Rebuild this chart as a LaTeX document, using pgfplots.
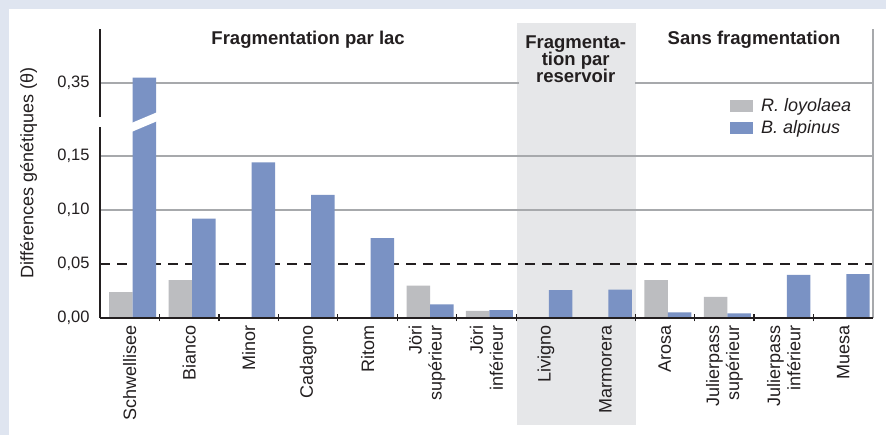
\documentclass[border=0pt]{standalone}
\usepackage{pgfplots}
\pgfplotsset{compat=1.18}
\usepackage{fontspec}
\setmainfont{Liberation Sans}
\definecolor{bgblue}{HTML}{DFE5F0}
\definecolor{band}{HTML}{E6E7E9}
\definecolor{ablue}{HTML}{7A92C4}
\definecolor{agrey}{HTML}{BCBDC0}
\definecolor{gridc}{HTML}{A7A9AC}
\definecolor{txt}{HTML}{231F20}
\begin{document}
\begin{tikzpicture}
\fill[bgblue] (0pt,0pt) rectangle (886pt,435pt);
\fill[white] (9pt,0pt) rectangle (886pt,426pt);
\fill[band] (517pt,10pt) rectangle (636pt,412pt);
\begin{axis}[
  at={(100pt,117pt)}, anchor=south west,
  scale only axis, width=773pt, height=289pt,
  xmin=-0.5, xmax=12.5, ymin=0, ymax=0.2675,
  axis line style={draw=none},
  tick pos=left,
  xtick={0,...,12},
  xticklabels={Schwellisee, Bianco, Minor, Cadagno, Ritom, {Jöri\\supérieur}, {Jöri\\inférieur}, Livigno, Marmorera, Arosa, {Julierpass\\supérieur}, {Julierpass\\inférieur}, Muesa},
  ytick={0,0.05,0.1,0.15,0.2175},
  yticklabels={{0,00},{0,05},{0,10},{0,15},{0,35}},
  major tick length=0pt,
  extra x ticks={0.5,1.5,2.5,3.5,4.5,5.5,6.5,8.5,9.5,10.5,11.5},
  extra x tick labels={},
  extra x tick style={major tick length=7pt, tick align=center, tick style={txt, line width=1.2pt}},
  xticklabel style={rotate=90, anchor=east, align=right, font=\fontsize{18}{20}\selectfont, text=txt},
  xticklabel shift=4pt,
  yticklabel style={font=\fontsize{16.5}{18}\selectfont, text=txt},
  yticklabel shift=7pt,
  clip=false,
  legend style={at={(axis description cs:0.815,0.761)}, anchor=north west, draw=none, fill=none, inner sep=0pt, row sep=8pt, font=\fontsize{18}{20}\selectfont\itshape, text=txt, cells={anchor=west}, nodes={inner sep=0pt}},
]
% grid lines
\draw[gridc, line width=1.2pt] (axis cs:-0.5,0.2175) -- (axis cs:6.55,0.2175);
\draw[gridc, line width=1.2pt] (axis cs:8.5,0.2175) -- (axis cs:12.5,0.2175);
\draw[gridc, line width=1.2pt] (axis cs:-0.5,0.15) -- (axis cs:12.5,0.15);
\draw[gridc, line width=1.2pt] (axis cs:-0.5,0.10) -- (axis cs:12.5,0.10);
\draw[txt, line width=1.5pt, dash pattern=on 10pt off 7pt] (axis cs:-0.5,0.05) -- (axis cs:12.5,0.05);
% bars
\addplot[ybar, fill=agrey, draw=none, bar width=0.395, bar shift=-0.1475,
  legend image code/.code={\fill[agrey] (0pt,-6pt) rectangle (23pt,6pt); \path (31pt,0pt);}]
  coordinates {(0,0.024) (1,0.035) (5,0.030) (6,0.0065) (9,0.035) (10,0.0195)};
\addlegendentry{R. loyolaea}
\addplot[ybar, fill=ablue, draw=none, bar width=0.395, bar shift=0.2475,
  y filter/.expression={y>0.2 ? y-0.1325 : y},
  legend image code/.code={\fill[ablue] (0pt,-6pt) rectangle (23pt,6pt); \path (31pt,0pt);}]
  coordinates {(0,0.355) (1,0.092) (2,0.144) (3,0.114) (4,0.074) (5,0.0125) (6,0.0072) (7,0.0257) (8,0.0262) (9,0.0053) (10,0.0043) (11,0.0398) (12,0.0407)};
\addlegendentry{B. alpinus}
% break on the Schwellisee bar
\fill[white] (axis cs:0.03,0.1722) -- (axis cs:0.47,0.1824) -- (axis cs:0.47,0.1907) -- (axis cs:0.03,0.1805) -- cycle;
% axis lines
\draw[txt, line width=1.5pt] (axis cs:-0.5,0) -- (axis cs:-0.5,0.177);
\draw[txt, line width=1.5pt] (axis cs:-0.5,0.1863) -- (axis cs:-0.5,0.2675);
\draw[gridc, line width=1.2pt] (axis cs:12.5,0) -- (axis cs:12.5,0.2675);
\draw[txt, line width=1.5pt] (axis cs:-0.5,0) -- (axis cs:12.5,0);
% group titles
\node[anchor=base, font=\fontsize{18.5}{20}\selectfont\bfseries, text=txt] at (axis cs:3,0.2528) {Fragmentation par lac};
\node[anchor=base, font=\fontsize{18.5}{20}\selectfont\bfseries, text=txt] at (axis cs:7.5,0.2491) {Fragmenta-};
\node[anchor=base, font=\fontsize{18.5}{20}\selectfont\bfseries, text=txt] at (axis cs:7.5,0.2333) {tion par};
\node[anchor=base, font=\fontsize{18.5}{20}\selectfont\bfseries, text=txt] at (axis cs:7.5,0.2176) {reservoir};
\node[anchor=base, font=\fontsize{18.5}{20}\selectfont\bfseries, text=txt] at (axis cs:10.5,0.2528) {Sans fragmentation};
\end{axis}
\node[rotate=90, font=\fontsize{18}{20}\selectfont, text=txt] at (28.5pt,262pt) {Différences génétiques (θ)};
\end{tikzpicture}
\end{document}
